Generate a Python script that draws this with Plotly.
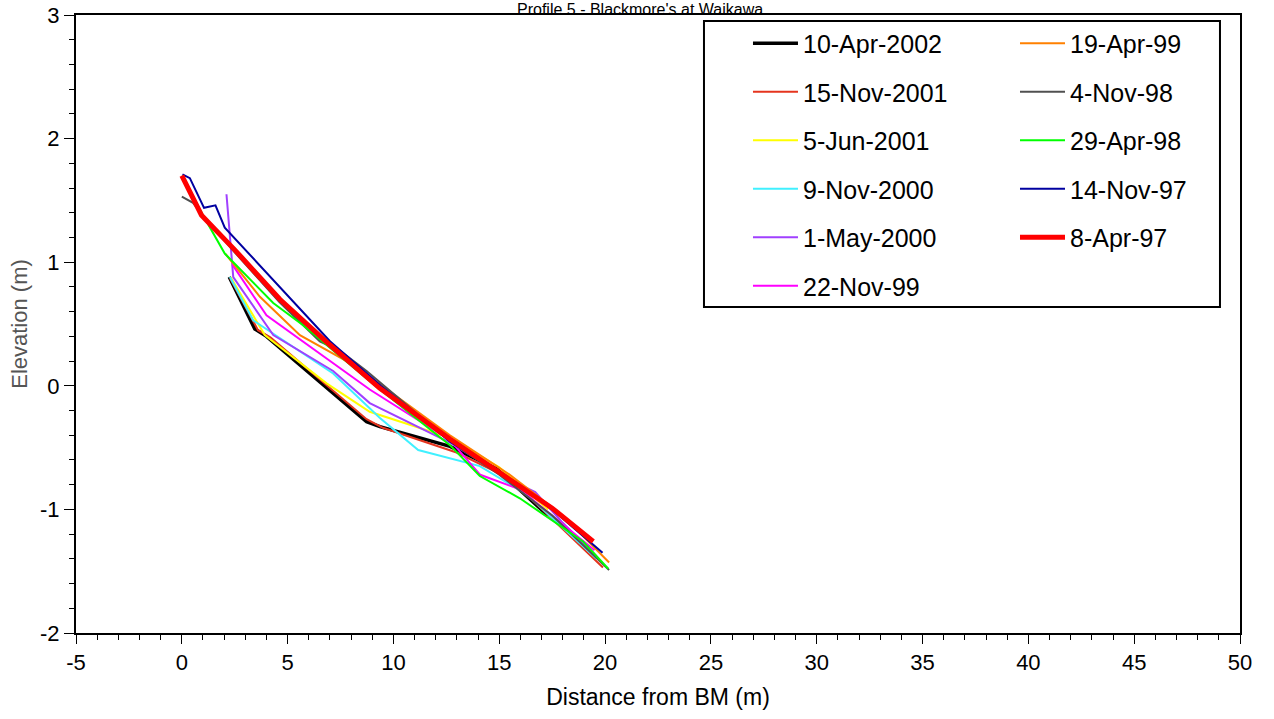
import plotly.graph_objects as go

# Beach profile surveys: distance from benchmark (m) vs elevation (m)
dates = ["10-Apr-2002", "15-Nov-2001", "5-Jun-2001", "9-Nov-2000", "1-May-2000",
         "22-Nov-99", "19-Apr-99", "4-Nov-98", "29-Apr-98", "14-Nov-97", "8-Apr-97"]

x_apr02 = [2.24, 3.45, 4.0, 8.73, 9.36, 12.67, 14.87, 17.3]
y_apr02 = [0.88, 0.46, 0.40, -0.29, -0.33, -0.49, -0.67, -1.05]

x_nov01 = [2.28, 3.6, 4.2, 8.73, 9.5, 12.98, 15.5, 19.9]
y_nov01 = [0.87, 0.45, 0.39, -0.27, -0.34, -0.54, -0.75, -1.47]

x_jun01 = [2.3, 3.92, 6.84, 8.88, 12.67, 15.0, 17.3]
y_jun01 = [0.88, 0.41, 0.02, -0.21, -0.42, -0.66, -1.0]

x_nov00 = [2.27, 3.37, 7.15, 9.36, 11.17, 14.08, 16.3, 19.6]
y_nov00 = [0.88, 0.53, 0.10, -0.26, -0.52, -0.65, -0.88, -1.40]

x_may00 = [2.11, 2.39, 2.43, 4.32, 7.15, 8.88, 12.67, 15.97, 16.7, 17.95, 19.6]
y_may00 = [1.55, 0.98, 0.88, 0.41, 0.12, -0.14, -0.46, -0.80, -0.86, -1.10, -1.38]

x_nov99 = [2.39, 4.0, 8.88, 12.67, 14.1, 16.0, 19.5]
y_nov99 = [0.98, 0.57, -0.03, -0.44, -0.72, -0.84, -1.33]

x_apr99 = [2.05, 3.69, 5.58, 8.10, 12.67, 15.5, 18.0, 20.19]
y_apr99 = [1.07, 0.72, 0.41, 0.17, -0.40, -0.72, -1.05, -1.43]

x_nov98 = [0.0, 0.53, 1.17, 2.5, 4.6, 6.52, 7.5, 8.10, 8.73, 12.67, 15.0, 17.5, 20.19]
y_nov98 = [1.53, 1.48, 1.34, 1.08, 0.68, 0.36, 0.28, 0.20, 0.12, -0.45, -0.72, -1.05, -1.49]

x_apr98 = [0.0, 1.0, 2.03, 4.32, 5.73, 9.0, 12.67, 14.08, 15.97, 18.96, 20.15]
y_apr98 = [1.70, 1.38, 1.07, 0.67, 0.49, 0.02, -0.48, -0.73, -0.91, -1.26, -1.48]

x_nov97 = [0.03, 0.38, 1.05, 1.59, 2.03, 4.08, 7.0, 9.4, 12.67, 15.0, 17.5, 19.88]
y_nov97 = [1.71, 1.68, 1.44, 1.46, 1.28, 0.90, 0.36, 0.0, -0.45, -0.70, -1.0, -1.35]

x_apr97 = [0.0, 0.93, 2.5, 4.63, 7.0, 9.36, 12.67, 15.0, 17.5, 19.44]
y_apr97 = [1.70, 1.38, 1.10, 0.70, 0.33, -0.02, -0.43, -0.70, -0.99, -1.26]

xs = [x_apr02, x_nov01, x_jun01, x_nov00, x_may00, x_nov99,
      x_apr99, x_nov98, x_apr98, x_nov97, x_apr97]
ys = [y_apr02, y_nov01, y_jun01, y_nov00, y_may00, y_nov99,
      y_apr99, y_nov98, y_apr98, y_nov97, y_apr97]

# Axis tick positions and labels (plain hyphen for negatives)
x_tickvals = [-5, 0, 5, 10, 15, 20, 25, 30, 35, 40, 45, 50]
x_ticktext = ["-5", "0", "5", "10", "15", "20", "25", "30", "35", "40", "45", "50"]
y_tickvals = [-2, -1, 0, 1, 2, 3]
y_ticktext = ["-2", "-1", "0", "1", "2", "3"]

colors = ["#000000", "#e5341e", "#ffff00", "#40f0ff", "#a040ff", "#ff00ff",
          "#ff8000", "#505050", "#00ff00", "#0000a0", "#ff0000"]
widths = [3.5, 2, 2, 2, 2, 2, 2, 2, 2, 2, 5]

FONT = "Liberation Sans, Arial, sans-serif"

fig = go.Figure()
for i, (name, xv, yv) in enumerate(zip(dates, xs, ys)):
    fig.add_trace(go.Scatter(
        x=xv, y=yv, mode="lines", name=name,
        line=dict(color=colors[i], width=widths[i]),
        legendgroup=name,
        legend="legend" if i < 6 else "legend2",
    ))

leg_common = dict(
    xanchor="left", yanchor="top", bgcolor="rgba(0,0,0,0)",
    borderwidth=0, font=dict(family=FONT, size=25, color="black"),
    tracegroupgap=13, traceorder="grouped", itemwidth=45,
)

fig.update_layout(
    width=1274, height=719,
    margin=dict(l=76, r=34, t=15, b=86, autoexpand=False),
    paper_bgcolor="white", plot_bgcolor="white",
    font=dict(family=FONT, size=22, color="black"),
    showlegend=True,
    legend=dict(x=0.5773, y=0.991, **leg_common),
    legend2=dict(x=0.8067, y=0.991, **leg_common),
    xaxis=dict(
        range=[-5, 50], tickmode="array", tickvals=x_tickvals, ticktext=x_ticktext,
        showgrid=False, zeroline=False, automargin=False,
        showline=True, linecolor="black", linewidth=2, mirror=True,
        ticks="outside", ticklen=9, tickwidth=1, tickcolor="black",
        minor=dict(dtick=1, tick0=0, ticks="outside", ticklen=5, tickcolor="black", tickwidth=1),
        tickfont=dict(size=22),
        title=dict(text="Distance from BM (m)", font=dict(size=23), standoff=14),
    ),
    yaxis=dict(
        range=[-2, 3], tickmode="array", tickvals=y_tickvals, ticktext=y_ticktext,
        showgrid=False, zeroline=False, automargin=False,
        showline=True, linecolor="black", linewidth=2, mirror=True,
        ticks="outside", ticklen=10, tickwidth=1, tickcolor="black",
        minor=dict(dtick=0.2, tick0=0, ticks="outside", ticklen=5, tickcolor="black", tickwidth=1),
        tickfont=dict(size=22),
        title=dict(text="Elevation (m)", font=dict(size=22, color="#555555"), standoff=6),
    ),
    shapes=[dict(
        type="rect", xref="paper", yref="paper",
        x0=0.5395, x1=0.9828, y0=0.5275, y1=0.9903,
        line=dict(color="black", width=2), fillcolor="rgba(0,0,0,0)",
    )],
    annotations=[dict(
        text="Profile 5 - Blackmore's at Waikawa", xref="paper", yref="paper",
        x=0.4845, y=1.0243, xanchor="center", yanchor="top", borderpad=0,
        showarrow=False, font=dict(family=FONT, size=16, color="black"),
    )],
)

fig.write_html("out.html")
